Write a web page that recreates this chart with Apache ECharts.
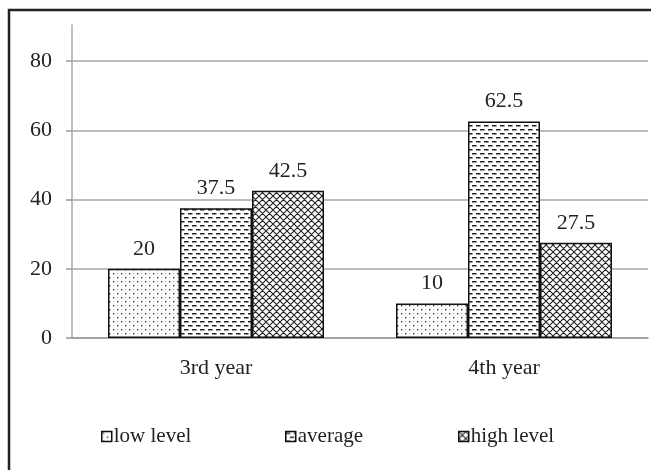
<!DOCTYPE html>
<html>
<head>
<meta charset="utf-8">
<script src="https://cdn.jsdelivr.net/npm/echarts@6/dist/echarts.min.js"></script>
<style>html,body{margin:0;padding:0;background:#fff}#c{width:651px;height:470px}</style>
</head>
<body>
<div id="c"></div>
<script>
var categories = ['3rd year', '4th year'];
var lowLevel = [20, 10];
var average = [37.5, 62.5];
var highLevel = [42.5, 27.5];
var seriesNames = ['low level', 'average', 'high level'];
var yTicks = [0, 20, 40, 60, 80];

function tile(w, h, draw) {
  var c = document.createElement('canvas');
  c.width = w; c.height = h;
  var g = c.getContext('2d');
  g.fillStyle = '#fff'; g.fillRect(0, 0, w, h);
  draw(g);
  return { image: c, repeat: 'repeat' };
}
var dotPat = tile(8, 8, function (g) {
  g.fillStyle = '#333';
  g.fillRect(1, 1, 1.4, 1.4);
  g.fillRect(5, 5, 1.4, 1.4);
  g.fillStyle = '#bbb';
  g.fillRect(5, 1, 1, 1);
  g.fillRect(1, 5, 1, 1);
});
var dashPat = tile(8, 8, function (g) {
  g.fillStyle = '#222';
  g.fillRect(0, 1, 4.5, 1.5);
  g.fillRect(4, 5, 4.5, 1.5);
  g.fillRect(0, 5, 0.5, 1.5);
});
var hatchPat = tile(7, 7, function (g) {
  g.strokeStyle = '#222';
  g.lineWidth = 1.1;
  g.beginPath();
  g.moveTo(-1, 8); g.lineTo(8, -1);
  g.moveTo(-1, 1); g.lineTo(1, -1);
  g.moveTo(6, 8); g.lineTo(8, 6);
  g.moveTo(-1, -1); g.lineTo(8, 8);
  g.moveTo(-1, 6); g.lineTo(1, 8);
  g.moveTo(6, -1); g.lineTo(8, 1);
  g.stroke();
});

var font = '"Liberation Serif", "Times New Roman", serif';
var txt = '#222';
var fs = 22;
var pats = [dotPat, dashPat, hatchPat];
var datas = [lowLevel, average, highLevel];

var series = seriesNames.map(function (n, i) {
  return {
    name: n, type: 'bar', data: datas[i],
    barGap: '0%', barCategoryGap: '25%',
    itemStyle: { color: pats[i], borderColor: '#111', borderWidth: 1.5 },
    label: { show: true, position: 'top', distance: 9, color: txt, fontFamily: font, fontSize: fs }
  };
});

var legendLefts = [101, 285, 458];
var legends = seriesNames.map(function (n, i) {
  return {
    data: [n], left: legendLefts[i], top: 426, padding: 0, itemWidth: 10, itemHeight: 10, itemGap: 4,
    icon: 'rect',
    itemStyle: { borderColor: '#111', borderWidth: 1.5 },
    textStyle: { fontFamily: font, fontSize: 21, color: txt, padding: [0, 0, 0, -3] },
    selectedMode: false
  };
});

var chart = echarts.init(document.getElementById('c'), null, { renderer: 'canvas' });
chart.setOption({
  animation: false,
  backgroundColor: '#fff',
  graphic: [{ type: 'rect', shape: { x: 9, y: 10, width: 700, height: 500 }, style: { fill: 'none', stroke: '#222', lineWidth: 2.5 } }],
  legend: legends,
  grid: [
    { left: 72, right: 3, top: 61, bottom: 132 },
    { left: 72, right: 3, top: 25, bottom: 132 }
  ],
  xAxis: [
    { type: 'category', data: categories, gridIndex: 0,
      axisLine: { lineStyle: { color: '#999', width: 1.5 } },
      axisTick: { show: false },
      axisLabel: { color: txt, fontFamily: font, fontSize: fs, margin: 19 } },
    { type: 'category', data: categories, gridIndex: 1, show: false }
  ],
  yAxis: [
    { type: 'value', gridIndex: 0, min: yTicks[0], max: yTicks[yTicks.length - 1], interval: 20,
      axisLine: { show: false },
      axisTick: { show: true, length: 6, lineStyle: { color: '#999', width: 1.5 } },
      splitLine: { lineStyle: { color: '#a6a6a6', width: 1.5 } },
      axisLabel: { color: txt, fontFamily: font, fontSize: fs, margin: 20 } },
    { type: 'value', gridIndex: 1, min: 0, max: 90,
      axisLine: { show: true, lineStyle: { color: '#aaa', width: 1.5 } },
      axisTick: { show: false }, axisLabel: { show: false }, splitLine: { show: false } }
  ],
  series: series
});
</script>
</body>
</html>
